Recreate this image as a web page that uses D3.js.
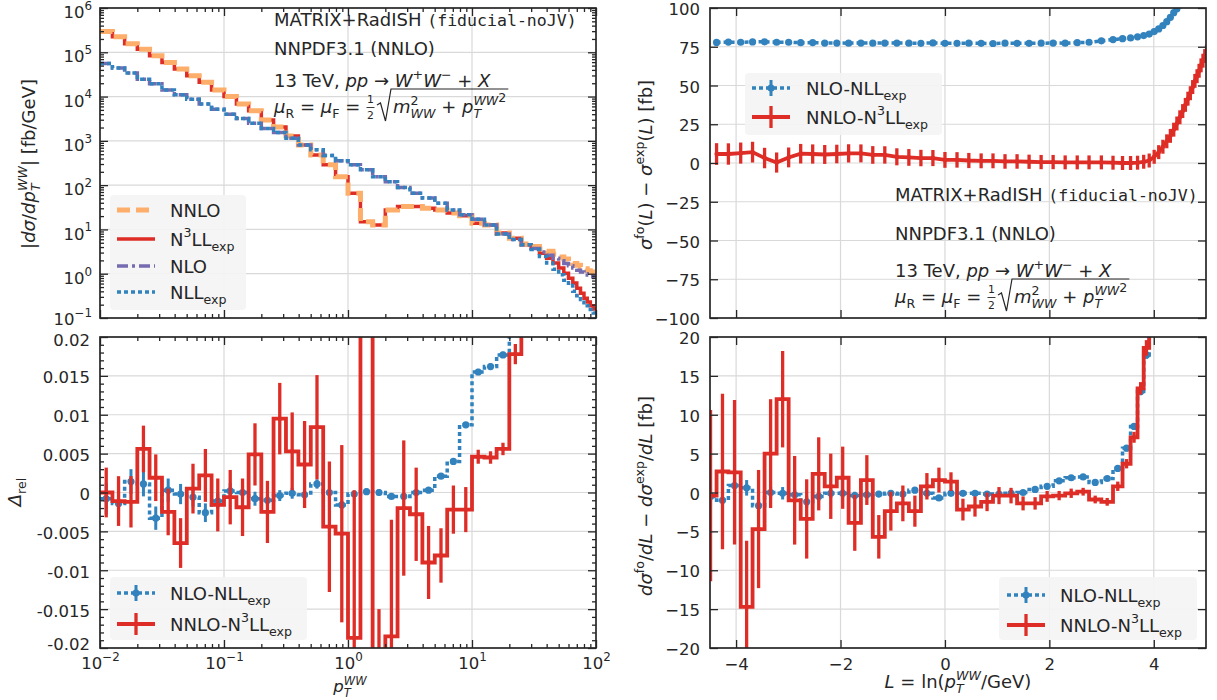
<!DOCTYPE html>
<html>
<head>
<meta charset="utf-8">
<script src="https://cdn.jsdelivr.net/npm/d3@7"></script>
<style>
  body { margin: 0; background: #fff; }
  svg { font-family: "DejaVu Sans", sans-serif; color: #333; }
  g.ax { font-family: "DejaVu Sans", sans-serif; }
  text { fill: #262626; white-space: pre; }
</style>
</head>
<body>
<svg id="chart" width="1217" height="700"></svg>
<script>
// pT bin edges [GeV]: 10 per decade up to 25 GeV, then 5 GeV wide
const ptEdges = [0.01, 0.0126, 0.0158, 0.02, 0.0251, 0.0316, 0.0398, 0.0501, 0.0631, 0.0794,
  0.1, 0.126, 0.158, 0.2, 0.251, 0.316, 0.398, 0.501, 0.631, 0.794,
  1, 1.26, 1.58, 2, 2.51, 3.16, 3.98, 5.01, 6.31, 7.94,
  10, 12.6, 15.8, 20, 25, 30, 35, 40, 45, 50, 55, 60, 65, 70, 75, 80, 85, 90, 95, 100,
  105, 110, 115, 120, 125, 130, 135, 140, 145, 150];

// top left: |dsigma/dpT| [fb/GeV] per bin
const nnloTL = [2.95e5, 2.24e5, 1.55e5, 1.17e5, 8.3e4, 5.9e4, 4.2e4, 2.95e4, 2.1e4, 1.4e4,
  1.0e4, 6.8e3, 4.8e3, 2.95e3, 2.05e3, 1290, 810, 480, 290, 155,
  66, 15, 12.6, 27.5, 33, 33, 30, 27.5, 23.4, 20.4,
  13.8, 12.6, 8.3, 6.3, 4.7, 4.1, 3.6, 3.2, 2.75, 2.4, 2.15, 1.9, 1.7, 1.55, 1.41, 1.29, 1.17, 1.10, 1.02];
const n3llTL = [2.95e5, 2.24e5, 1.55e5, 1.17e5, 8.3e4, 5.9e4, 4.2e4, 2.95e4, 2.1e4, 1.4e4,
  1.0e4, 6.8e3, 4.8e3, 2.95e3, 2.05e3, 1290, 810, 480, 290, 155,
  66, 15, 12.6, 27.5, 33, 33, 30, 27.5, 23.4, 20.4,
  13.8, 12.6, 8.3, 6.3, 4.5, 3.8, 2.9, 2.24, 1.74, 1.35, 1.02, 0.79, 0.62, 0.47, 0.36, 0.28, 0.23, 0.19, 0.16];
const nloTL = [5.6e4, 4.4e4, 3.4e4, 2.45e4, 1.95e4, 1.4e4, 1.1e4, 8.7e3, 6.8e3, 5.2e3,
  4.0e3, 3.2e3, 2.5e3, 1.9e3, 1.55e3, 1150, 810, 630, 470, 355,
  290, 224, 155, 120, 89, 66, 51, 39, 27.5, 21.4,
  17, 12.6, 7.9, 5.9, 4.5, 3.7, 3.1, 2.6, 2.24, 1.95, 1.7, 1.51, 1.35, 1.2, 1.1, 1.0, 0.93, 0.87, 0.83];
const nllTL = [5.6e4, 4.4e4, 3.4e4, 2.45e4, 1.95e4, 1.4e4, 1.1e4, 8.7e3, 6.8e3, 5.2e3,
  4.0e3, 3.2e3, 2.5e3, 1.9e3, 1.55e3, 1150, 810, 630, 470, 355,
  290, 224, 155, 120, 89, 66, 51, 39, 27.5, 21.4,
  17, 12.6, 7.9, 5.9, 4.5, 3.5, 2.45, 1.74, 1.26, 0.95, 0.71, 0.54, 0.40, 0.32, 0.26, 0.22, 0.19, 0.155, 0.13];

// bottom left: Delta_rel per bin
const relNLO = [-0.0008, -0.0014, 0.0014, 0.0011, -0.0033, 0.0003, -0.0002, -0.0006, -0.0026, -0.0011,
  0.0002, 0.0000, -0.0008, -0.0010, -0.0004, -0.0001, -0.0003, 0.0011, 0.0000, -0.0016,
  -0.0002, 0.0001, 0.0000, -0.0005, -0.0005, 0.0000, 0.0003, 0.0021, 0.0040, 0.0087,
  0.0155, 0.0162, 0.0177, 0.0230, 0.03];
const relNLOErr = [0.0020, 0.0018, 0.0016, 0.0016, 0.0015, 0.0015, 0.0013, 0.0012, 0.0012, 0.0010,
  0.0010, 0.0010, 0.0009, 0.0008, 0.0007, 0.0007, 0.0006, 0.0006, 0.0005, 0.0005,
  0.0004, 0.0004, 0.0004, 0.0003, 0.0003, 0.0003, 0.0003, 0.0003, 0.0003, 0.0003,
  0.0004, 0.0004, 0.0004, 0.0005, 0.0005];
const relNNLO = [0.0000, -0.0011, -0.0012, 0.0056, 0.0019, -0.0025, -0.0065, 0.0005, 0.0022, -0.0016,
  -0.0006, -0.0019, 0.0049, -0.0025, 0.0095, 0.0053, 0.0036, 0.0084, -0.0044, -0.0053,
  -0.0187, 0.035, -0.03, -0.0185, -0.0020, -0.0028, -0.0090, -0.0081, -0.0022, -0.0022,
  0.0046, 0.0045, 0.0056, 0.0178, 0.03];
const relNNLOErr = [0.0032, 0.0032, 0.0033, 0.0030, 0.0030, 0.0030, 0.0032, 0.0032, 0.0034, 0.0034,
  0.0035, 0.0037, 0.0040, 0.0040, 0.0046, 0.0050, 0.0056, 0.0067, 0.0084, 0.0114,
  0.019, 0.01, 0.015, 0.015, 0.0087, 0.0060, 0.0047, 0.0035, 0.0031, 0.0029,
  0.0009, 0.0008, 0.0008, 0.0013, 0.002];

// top right: sigma^fo(L) - sigma^exp(L) [fb], at upper bin edges
const cumNLO = [77.8, 78.0, 77.9, 78.1, 78.2, 77.9, 77.9, 77.6, 77.7, 77.4,
  77.4, 77.3, 77.4, 77.3, 77.4, 77.4, 77.3, 77.2, 77.5, 77.2,
  77.2, 77.3, 77.2, 77.1, 77.3, 77.2, 77.2, 77.3, 77.4, 77.3,
  77.6, 77.9, 78.8, 79.6, 80.2, 80.7, 81.4, 82.2, 83.2, 84.8,
  86.5, 88.7, 91.2, 94.0, 97.0, 99.5, 102.0, 105.0, 108.0];
const cumNLOErr = [1.5, 1.5, 1.5, 1.5, 1.5, 1.5, 1.5, 1.5, 1.5, 1.5,
  1.4, 1.4, 1.4, 1.4, 1.4, 1.3, 1.3, 1.3, 1.3, 1.3,
  1.2, 1.2, 1.2, 1.2, 1.2, 1.2, 1.2, 1.2, 1.2, 1.2,
  1.2, 1.2, 1.2, 1.2, 1.2, 1.2, 1.2, 1.2, 1.2, 1.2,
  1.2, 1.2, 1.2, 1.2, 1.2, 1.2, 1.2, 1.2, 1.2];
const cumNNLO = [5.8, 5.8, 6.4, 7.0, 3.2, 0.3, 3.6, 6.0, 5.8, 5.5,
  5.8, 6.2, 6.2, 5.2, 5.2, 4.0, 3.6, 3.2, 3.2, 2.0,
  2.0, 1.6, 1.4, 1.4, 1.0, 1.0, 0.8, 0.6, 0.6, 0.4,
  0.4, 0.4, 0.4, 0.2, 0.0, 0.0, 0.2, 0.8, 1.6, 4.0,
  7.0, 10.5, 14.0, 17.5, 21.5, 25.5, 29.5, 33.5, 37.5, 41.5,
  45.0, 49.0, 53.0, 56.0, 59.5, 63.0, 66.0, 69.0, 72.0];
const cumNNLOErr = [7.0, 6.9, 6.8, 6.7, 6.6, 6.5, 6.4, 6.3, 6.2, 6.1,
  6.0, 5.9, 5.8, 5.7, 5.6, 5.5, 5.4, 5.3, 5.2, 5.1,
  5.0, 4.9, 4.8, 4.8, 4.7, 4.7, 4.6, 4.6, 4.6, 4.5,
  4.5, 4.5, 4.5, 4.5, 4.5, 4.5, 4.5, 4.5, 4.5, 4.5,
  4.5, 4.5, 4.5, 4.5, 4.5, 4.5, 4.5, 4.5, 4.5, 4.5,
  4.5, 4.5, 4.5, 4.5, 4.5, 4.5, 4.5, 4.5, 4.5];

// bottom right: dsigma^fo/dL - dsigma^exp/dL [fb] per bin
const difNLO = [-0.5, -1.0, 0.9, 0.6, -1.7, 0.0, -0.1, -0.3, -1.2, -0.5,
  -0.1, -0.1, -0.4, -0.3, -0.2, -0.1, -0.2, 0.3, -0.1, -0.7,
  -0.1, -0.1, -0.1, -0.2, -0.2, -0.1, 0.0, 0.4, 0.8, 1.5,
  1.9, 2.0, 1.3, 1.8, 3.1, 5.7, 8.5, 13.0, 17.7, 24.0];
const difNLOErr = [1.3, 1.2, 1.1, 1.0, 0.9, 0.8, 0.8, 0.7, 0.7, 0.6,
  0.6, 0.5, 0.5, 0.5, 0.4, 0.4, 0.4, 0.4, 0.3, 0.3,
  0.3, 0.3, 0.3, 0.3, 0.3, 0.3, 0.3, 0.3, 0.3, 0.3,
  0.3, 0.3, 0.3, 0.3, 0.3, 0.4, 0.4, 0.5, 0.5, 0.6];
const difNNLO = [-0.4, 2.7, 2.6, -14.7, -4.7, 5.0, 12.0, -1.0, -3.4, 2.4,
  0.8, 1.9, -3.9, 1.6, -5.7, -2.4, -1.4, -2.4, 0.8, 1.6,
  1.4, -2.2, -1.8, -1.2, -0.4, -0.4, -1.4, -1.4, -0.5, -0.4,
  -0.1, 0.1, -0.9, -1.2, 0.8, 3.7, 7.1, 13.4, 18.6, 25.0];
const difNNLOErr = [11.0, 10.0, 9.3, 8.5, 7.6, 7.0, 6.2, 5.7, 5.1, 4.7,
  4.2, 4.0, 3.6, 3.2, 2.8, 2.5, 2.3, 2.0, 1.7, 1.6,
  1.2, 1.4, 1.3, 1.2, 1.1, 1.0, 0.9, 0.8, 0.7, 0.6,
  0.6, 0.5, 0.5, 0.5, 0.6, 0.6, 0.7, 0.8, 1.0, 1.0];

// ticks
const decadesX = [1e-2, 1e-1, 1, 10, 100];
const decadesY = [1e-1, 1, 10, 100, 1e3, 1e4, 1e5, 1e6];
const relTicks = [-0.02, -0.015, -0.01, -0.005, 0, 0.005, 0.01, 0.015, 0.02];
const cumTicks = [-100, -75, -50, -25, 0, 25, 50, 75, 100];
const difTicks = [-20, -15, -10, -5, 0, 5, 10, 15, 20];
const lTicks = [-4, -2, 0, 2, 4];

const RED = "#de2d26", ORANGE = "#fdae6b", PURPLE = "#756bb1", BLUE = "#3182bd";
const sty = {
  nnlo: { c: ORANGE, w: 5, dash: "13,6" },
  n3ll: { c: RED, w: 3.5, dash: null },
  nlo: { c: PURPLE, w: 3.5, dash: "11,4,3,4" },
  nll: { c: BLUE, w: 3.5, dash: "4,3" }
};

const svg = d3.select("#chart");
const defs = svg.append("defs");

const P = {
  tl: { x0: 100, x1: 596, y0: 8, y1: 318 },
  bl: { x0: 100, x1: 596, y0: 337, y1: 648 },
  tr: { x0: 710, x1: 1206, y0: 8, y1: 318 },
  br: { x0: 710, x1: 1206, y0: 337, y1: 648 }
};

const xPt = d3.scaleLog().domain([1e-2, 1e2]).range([P.tl.x0, P.tl.x1]);
const yTL = d3.scaleLog().domain([1e-1, 1e6]).range([P.tl.y1, P.tl.y0]);
const yBL = d3.scaleLinear().domain([-0.02, 0.02]).range([P.bl.y1, P.bl.y0]);
const xL = d3.scaleLinear().domain([-4.5, 5]).range([P.tr.x0, P.tr.x1]);
const yTR = d3.scaleLinear().domain([-100, 100]).range([P.tr.y1, P.tr.y0]);
const yBR = d3.scaleLinear().domain([-20, 20]).range([P.br.y1, P.br.y0]);

const fxPt = e => xPt(e);
const fxL = e => xL(Math.log(e));

const minorLog = s => s.ticks().filter(v => Math.abs(Math.log10(v) - Math.round(Math.log10(v))) > 1e-6);
const relMinor = d3.range(-20, 21).map(v => v / 1000).filter(v => Math.abs(v * 1000) % 5 !== 0);

// ---------- helpers ----------
function clip(id, p) {
  defs.append("clipPath").attr("id", id).append("rect")
    .attr("x", p.x0).attr("y", p.y0).attr("width", p.x1 - p.x0).attr("height", p.y1 - p.y0);
}

function grid(g, p, xs, ys, xv, yv) {
  g.selectAll(null).data(xv).join("line")
    .attr("x1", d => xs(d)).attr("x2", d => xs(d)).attr("y1", p.y0).attr("y2", p.y1)
    .attr("stroke", "#d9d9d9").attr("stroke-width", 1.2);
  g.selectAll(null).data(yv).join("line")
    .attr("y1", d => ys(d)).attr("y2", d => ys(d)).attr("x1", p.x0).attr("x2", p.x1)
    .attr("stroke", "#d9d9d9").attr("stroke-width", 1.2);
}

function ticks(g, p, xs, ys, xMaj, xMin, yMaj, yMin) {
  const add = (gen, tr, vals, len) => {
    const a = g.append("g").attr("class", "ax").attr("transform", tr)
      .call(gen.tickValues(vals).tickSize(-len).tickFormat(() => ""));
    a.select(".domain").remove();
    a.selectAll(".tick line").attr("stroke", "#262626").attr("stroke-width", 1.3);
  };
  [[xMaj, 8], [xMin, 4]].forEach(([v, l]) => {
    add(d3.axisBottom(xs), `translate(0,${p.y1})`, v, l);
    add(d3.axisTop(xs), `translate(0,${p.y0})`, v, l);
  });
  [[yMaj, 8], [yMin, 4]].forEach(([v, l]) => {
    add(d3.axisLeft(ys), `translate(${p.x0},0)`, v, l);
    add(d3.axisRight(ys), `translate(${p.x1},0)`, v, l);
  });
  g.append("rect").attr("x", p.x0).attr("y", p.y0)
    .attr("width", p.x1 - p.x0).attr("height", p.y1 - p.y0)
    .attr("fill", "none").attr("stroke", "#262626").attr("stroke-width", 1.7);
}

function labels(g, gen, tr, vals, fmt, pad, dy) {
  const a = g.append("g").attr("class", "ax").attr("transform", tr)
    .call(gen.tickValues(vals).tickSize(0).tickPadding(pad).tickFormat(fmt));
  a.select(".domain").remove();
  a.selectAll(".tick line").remove();
  a.attr("font-size", 16.5);
  if (dy) a.selectAll(".tick text").attr("dy", dy);
  return a;
}

// "10" plus a separate exponent text, so the two boxes stay small
function powLabels(a, side, pad, dyFn) {
  a.selectAll(".tick").each(function (d) {
    const tk = d3.select(this);
    const e = Math.round(Math.log10(d));
    const base = tk.select("text").text("10").attr("dy", null).attr("text-anchor", "start");
    const ex = tk.append("text").attr("font-size", 11.9).attr("text-anchor", "start")
      .text(e < 0 ? "\u2212" + (-e) : String(e));
    const w10 = base.node().getComputedTextLength(), wE = ex.node().getComputedTextLength();
    const y0 = side === "left" ? dyFn(d) * 16.5 : pad + 0.71 * 16.5;
    const x0 = side === "left" ? -pad - w10 - wE : -(w10 + wE) / 2;
    base.attr("x", x0).attr("y", y0);
    ex.attr("x", x0 + w10).attr("y", y0 - 8.25);
  });
}

// little rich-text writer: sub/superscripts, italics, mono
function rich(g, x, y, parts, fs) {
  let cx = x, segStart = x;
  parts.forEach(([str, f = ""]) => {
    const fl = f.split(" ");
    const small = fl.includes("sup") || fl.includes("sub");
    let size = small ? fs * 0.7 : fs;
    if (fl.includes("mono")) size = fs * 0.92;
    let dy = 0;
    if (fl.includes("sup")) dy = fl.includes("hi") ? -fs * 0.62 : -fs * 0.46;
    if (fl.includes("sub")) dy = fs * 0.3;
    const px = fl.includes("stack") ? segStart : cx;
    const t = g.append("text").attr("x", px).attr("y", y + dy).attr("font-size", size).text(str);
    if (fl.includes("it")) t.attr("font-style", "italic");
    if (fl.includes("mono")) t.style("font-family", "'DejaVu Sans Mono', monospace");
    const w = t.node().getComputedTextLength();
    if (fl.includes("stack")) cx = Math.max(cx, px + w);
    else { segStart = px; cx = px + w; }
  });
  return cx - x;
}

function centered(g, cx, cy, parts, fs, rotate) {
  const outer = g.append("g").attr("transform", `translate(${cx},${cy})` + (rotate ? " rotate(-90)" : ""));
  const inner = outer.append("g");
  const w = rich(inner, 0, 0, parts, fs);
  inner.attr("transform", `translate(${-w / 2},0)`);
}

function scaleChoice(g, x, y, fs) {
  let cx = x + rich(g, x, y, [["\u03bc", "it"], ["R", "sub"], [" = "], ["\u03bc", "it"], ["F", "sub"], [" = "]], fs);
  const fz = fs * 0.6;
  g.append("text").attr("x", cx + 4.5).attr("y", y - 10).attr("font-size", fz).attr("text-anchor", "middle").text("1");
  g.append("text").attr("x", cx + 4.5).attr("y", y + 6).attr("font-size", fz).attr("text-anchor", "middle").text("2");
  g.append("line").attr("x1", cx + 0.5).attr("x2", cx + 8.5).attr("y1", y - 5.5).attr("y2", y - 5.5)
    .attr("stroke", "#262626").attr("stroke-width", 0.9);
  cx += 11;
  const rw = rich(g, cx + 16, y, [["m", "it"], ["2", "sup"], ["WW", "sub it stack"], [" + "],
    ["p", "it"], ["WW", "sup it"], ["T", "sub it stack"], ["2", "sup hi"]], fs);
  g.append("path")
    .attr("d", `M${cx},${y - 8} L${cx + 3.5},${y - 10} L${cx + 8.5},${y + 8} L${cx + 14},${y - 24} L${cx + 18 + rw},${y - 24}`)
    .attr("fill", "none").attr("stroke", "#262626").attr("stroke-width", 1.2);
}

function annotation(g, x, ys) {
  const fs = 18;
  rich(g, x, ys[0], [["MATRIX+RadISH "], ["(fiducial-noJV)", "mono"]], fs);
  rich(g, x, ys[1], [["NNPDF3.1 (NNLO)"]], fs);
  rich(g, x, ys[2], [["13 TeV, "], ["pp", "it"], [" \u2192 "], ["W", "it"], ["+", "sup"], ["W", "it"],
    ["\u2212", "sup"], [" + "], ["X", "it"]], fs);
  scaleChoice(g, x, ys[3], fs);
}

function styled(sel, s) {
  sel.attr("fill", "none").attr("stroke", s.c).attr("stroke-width", s.w);
  if (s.dash) sel.attr("stroke-dasharray", s.dash);
  return sel;
}

function stepLine(fx, ys, edges, vals) {
  const pts = vals.map((v, i) => [edges[i], v]);
  pts.push([edges[vals.length], vals[vals.length - 1]]);
  return d3.line().x(d => fx(d[0])).y(d => ys(d[1])).curve(d3.curveStepAfter)(pts);
}

function histErr(g, fx, ys, vals, errs, s, marker) {
  styled(g.append("path").attr("d", stepLine(fx, ys, ptEdges, vals)), s);
  const cen = (d, i) => fx(Math.sqrt(ptEdges[i] * ptEdges[i + 1]));
  g.selectAll(null).data(vals).join("line")
    .attr("x1", cen).attr("x2", cen)
    .attr("y1", (d, i) => ys(d - errs[i])).attr("y2", (d, i) => ys(d + errs[i]))
    .attr("stroke", s.c).attr("stroke-width", s.w - 0.5);
  g.selectAll(null).data(vals).join("circle")
    .attr("cx", cen).attr("cy", d => ys(d)).attr("r", marker).attr("fill", s.c);
}

function pointsErr(g, fx, ys, vals, errs, s, marker) {
  const pos = (d, i) => fx(ptEdges[i + 1]);
  styled(g.append("path").attr("d", d3.line().x(pos).y(d => ys(d))(vals)), s);
  g.selectAll(null).data(vals).join("line")
    .attr("x1", pos).attr("x2", pos)
    .attr("y1", (d, i) => ys(d - errs[i])).attr("y2", (d, i) => ys(d + errs[i]))
    .attr("stroke", s.c).attr("stroke-width", s.w - 0.5);
  g.selectAll(null).data(vals).join("circle")
    .attr("cx", pos).attr("cy", d => ys(d)).attr("r", marker).attr("fill", s.c);
}

function legendBox(g, x, y, w, h) {
  g.append("rect").attr("x", x).attr("y", y).attr("width", w).attr("height", h).attr("rx", 4)
    .attr("fill", "#f4f4f4").attr("fill-opacity", 0.92);
}

function errLegend(g, x, textX, items) {
  items.forEach(it => {
    styled(g.append("line").attr("x1", x).attr("x2", x + 38).attr("y1", it.y).attr("y2", it.y), it.s);
    g.append("line").attr("x1", x + 19).attr("x2", x + 19).attr("y1", it.y - it.bar).attr("y2", it.y + it.bar)
      .attr("stroke", it.s.c).attr("stroke-width", it.s.w - 0.5);
    g.append("circle").attr("cx", x + 19).attr("cy", it.y).attr("r", it.m).attr("fill", it.s.c);
    rich(g, textX, it.y + 6.5, it.label, 18);
  });
}

const errBlue = { c: BLUE, w: 3.5, dash: "4,3" };
const errRed = { c: RED, w: 3.8, dash: null };
const lblNLO = [["NLO-NLL"], ["exp", "sub"]];
const lblNNLO = [["NNLO-N"], ["3", "sup"], ["LL"], ["exp", "sub"]];

// ---------- top left ----------
const gTL = svg.append("g");
clip("cTL", P.tl);
grid(gTL, P.tl, xPt, yTL, [0.1, 1, 10], decadesY.slice(1, -1));
const dTL = gTL.append("g").attr("clip-path", "url(#cTL)");
styled(dTL.append("path").attr("d", stepLine(fxPt, yTL, ptEdges, n3llTL)), sty.n3ll);
styled(dTL.append("path").attr("d", stepLine(fxPt, yTL, ptEdges, nnloTL)), sty.nnlo);
styled(dTL.append("path").attr("d", stepLine(fxPt, yTL, ptEdges, nloTL)), sty.nlo);
styled(dTL.append("path").attr("d", stepLine(fxPt, yTL, ptEdges, nllTL)), sty.nll);
ticks(gTL, P.tl, xPt, yTL, decadesX, minorLog(xPt), decadesY, minorLog(yTL));
powLabels(labels(gTL, d3.axisLeft(yTL), `translate(${P.tl.x0},0)`, decadesY, d => d, 8),
  "left", 8, d => (d === 0.1 ? 0.38 : 0.58));
legendBox(gTL, 110, 195, 136, 115);
[
  { y: 210, s: sty.nnlo, label: [["NNLO"]] },
  { y: 239, s: sty.n3ll, label: [["N"], ["3", "sup"], ["LL"], ["exp", "sub"]] },
  { y: 266, s: sty.nlo, label: [["NLO"]] },
  { y: 292, s: sty.nll, label: [["NLL"], ["exp", "sub"]] }
].forEach(it => {
  styled(gTL.append("line").attr("x1", 117).attr("x2", 155).attr("y1", it.y).attr("y2", it.y), it.s);
  rich(gTL, 170, it.y + 6.5, it.label, 18);
});
annotation(gTL, 274, [26, 55, 87, 113]);
centered(gTL, 35, 164, [["|"], ["d", "it"], ["\u03c3", "it"], ["/"], ["d", "it"], ["p", "it"],
  ["WW", "sup it"], ["T", "sub it stack"], ["|"], [" [fb/GeV]"]], 18, true);

// ---------- bottom left ----------
const gBL = svg.append("g");
clip("cBL", P.bl);
grid(gBL, P.bl, xPt, yBL, [0.1, 1, 10], relTicks.slice(1, -1));
const dBL = gBL.append("g").attr("clip-path", "url(#cBL)");
histErr(dBL, fxPt, yBL, relNLO, relNLOErr, errBlue, 3.6);
histErr(dBL, fxPt, yBL, relNNLO, relNNLOErr, errRed, 2.2);
ticks(gBL, P.bl, xPt, yBL, decadesX, minorLog(xPt), relTicks, relMinor);
labels(gBL, d3.axisLeft(yBL), `translate(${P.bl.x0},0)`, relTicks, d => String(+d.toFixed(3)), 10,
  d => (d === 0.02 ? "0.5em" : d === -0.02 ? "0.12em" : "0.42em"));
powLabels(labels(gBL, d3.axisBottom(xPt), `translate(0,${P.bl.y1})`, decadesX, d => d, 9.5), "bottom", 9.5);
legendBox(gBL, 110, 577, 197, 63);
errLegend(gBL, 117, 170, [
  { y: 593, s: errBlue, bar: 8, m: 3.6, label: lblNLO },
  { y: 624, s: errRed, bar: 11, m: 2.2, label: lblNNLO }
]);
centered(gBL, 21, 492, [["\u0394", "it"], ["rel", "sub"]], 18, true);
centered(gBL, 350, 692.2, [["p", "it"], ["WW", "sup it"], ["T", "sub it stack"]], 16.5, false);

// ---------- top right ----------
const gTR = svg.append("g");
clip("cTR", P.tr);
grid(gTR, P.tr, xL, yTR, lTicks, cumTicks.slice(1, -1));
const dTR = gTR.append("g").attr("clip-path", "url(#cTR)");
pointsErr(dTR, fxL, yTR, cumNLO, cumNLOErr, errBlue, 3.6);
pointsErr(dTR, fxL, yTR, cumNNLO, cumNNLOErr, errRed, 2.2);
ticks(gTR, P.tr, xL, yTR, lTicks, [], cumTicks, []);
labels(gTR, d3.axisLeft(yTR), `translate(${P.tr.x0},0)`, cumTicks, d3.format("d"), 10, "0.4em");
legendBox(gTR, 745, 73, 197, 62);
errLegend(gTR, 752, 806, [
  { y: 88, s: errBlue, bar: 8, m: 3.6, label: lblNLO },
  { y: 117, s: errRed, bar: 11, m: 2.2, label: lblNNLO }
]);
annotation(gTR, 895, [201, 240, 277, 303]);
centered(gTR, 652, 165, [["\u03c3", "it"], ["fo", "sup"], ["("], ["L", "it"], [")"], [" \u2212 "],
  ["\u03c3", "it"], ["exp", "sup"], ["("], ["L", "it"], [")"], [" [fb]"]], 18, true);

// ---------- bottom right ----------
const gBR = svg.append("g");
clip("cBR", P.br);
grid(gBR, P.br, xL, yBR, lTicks, difTicks.slice(1, -1));
const dBR = gBR.append("g").attr("clip-path", "url(#cBR)");
histErr(dBR, fxL, yBR, difNLO, difNLOErr, errBlue, 3.6);
histErr(dBR, fxL, yBR, difNNLO, difNNLOErr, errRed, 2.2);
ticks(gBR, P.br, xL, yBR, lTicks, [], difTicks, []);
labels(gBR, d3.axisLeft(yBR), `translate(${P.br.x0},0)`, difTicks, d3.format("d"), 10, "0.4em");
labels(gBR, d3.axisBottom(xL), `translate(0,${P.br.y1})`, lTicks, d3.format("d"), 10.5);
legendBox(gBR, 999, 577, 198, 63);
errLegend(gBR, 1007, 1060, [
  { y: 595, s: errBlue, bar: 8, m: 3.6, label: lblNLO },
  { y: 625, s: errRed, bar: 11, m: 2.2, label: lblNNLO }
]);
centered(gBR, 652, 496, [["d", "it"], ["\u03c3", "it"], ["fo", "sup"], ["/"], ["d", "it"], ["L", "it"],
  [" \u2212 "], ["d", "it"], ["\u03c3", "it"], ["exp", "sup"], ["/"], ["d", "it"], ["L", "it"], [" [fb]"]], 18, true);
centered(gBR, 958, 688, [["L", "it"], [" = ln("], ["p", "it"], ["WW", "sup it"], ["T", "sub it stack"], ["/GeV)"]], 18, false);
</script>
</body>
</html>
